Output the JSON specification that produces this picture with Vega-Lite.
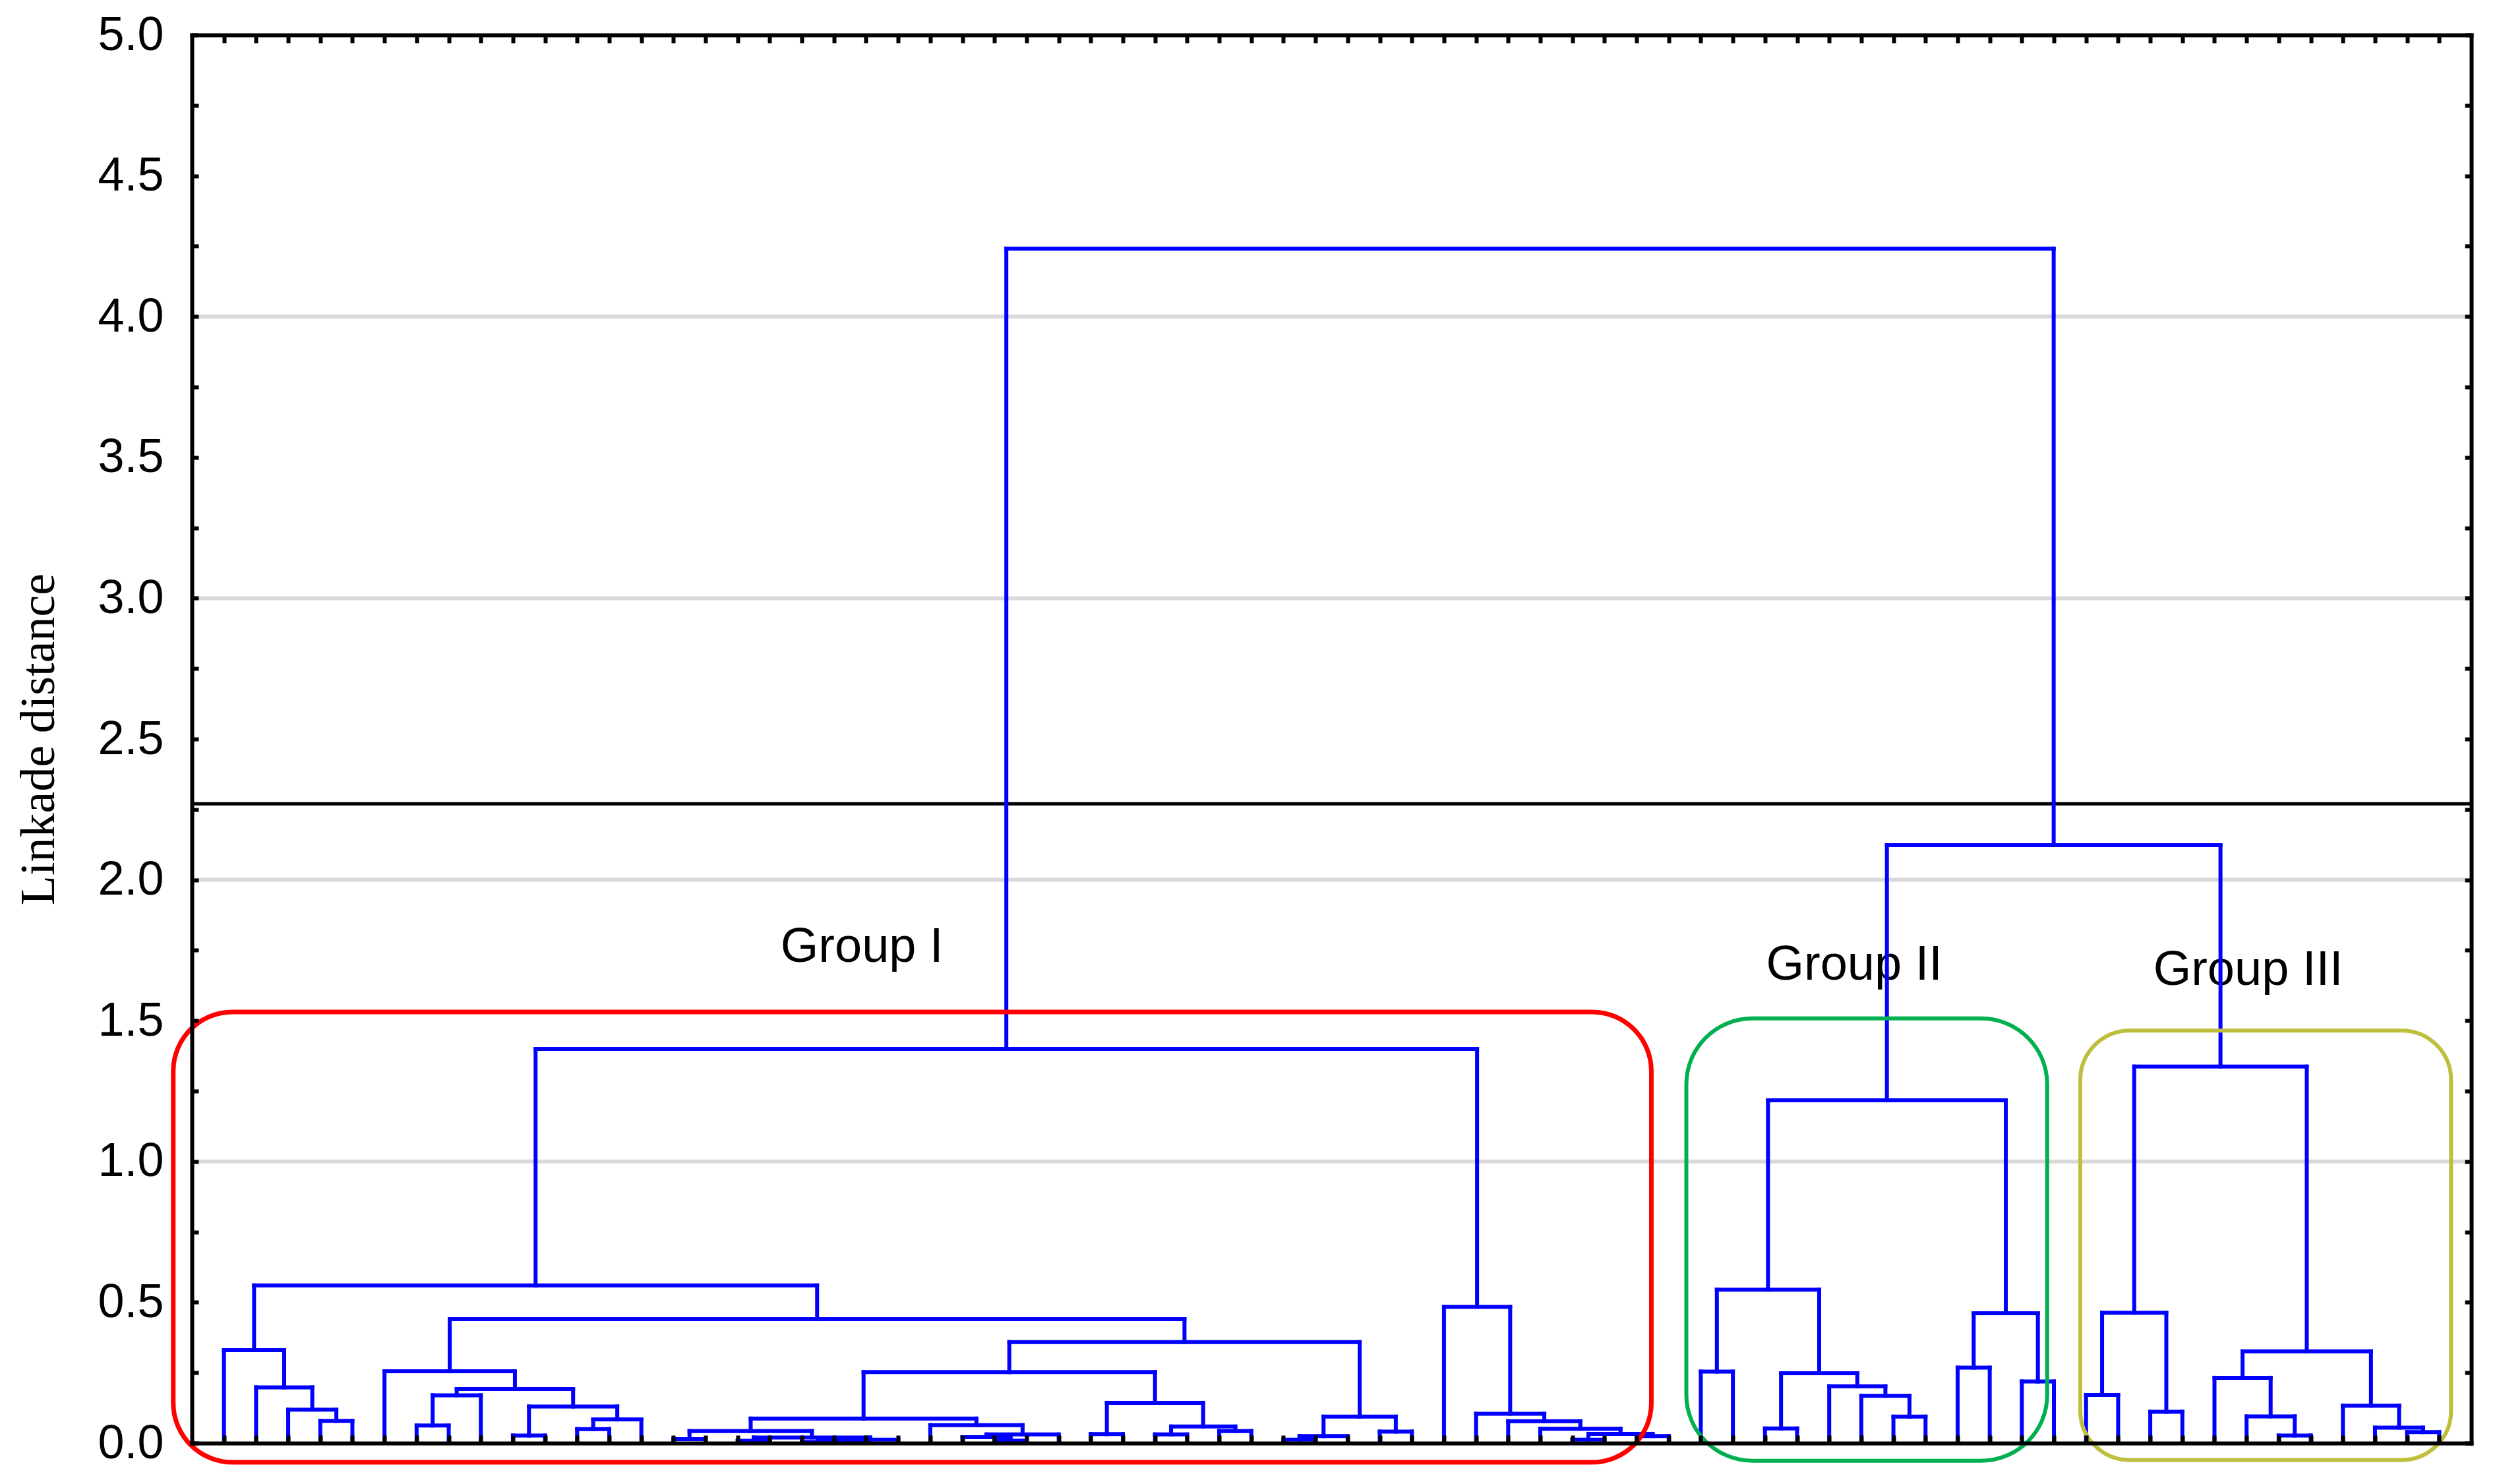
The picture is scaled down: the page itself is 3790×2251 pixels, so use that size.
{
  "$schema": "https://vega.github.io/schema/vega-lite/v6.json",
  "width": 3457,
  "height": 2136,
  "autosize": "none",
  "padding": {"left": 291, "top": 53, "right": 42, "bottom": 62},
  "background": "white",
  "config": {"view": {"stroke": null}, "axis": {"domainCap": "square", "tickCap": "butt"}},
  "datasets": {
    "merges": [
      {"l": 4, "r": 5, "hl": 0, "hr": 0, "h": 0.079},
      {"l": 3, "r": 4.5, "hl": 0, "hr": 0.079, "h": 0.119},
      {"l": 2, "r": 3.75, "hl": 0, "hr": 0.119, "h": 0.198},
      {"l": 1, "r": 2.875, "hl": 0, "hr": 0.198, "h": 0.33},
      {"l": 7, "r": 8, "hl": 0, "hr": 0, "h": 0.0625},
      {"l": 7.5, "r": 9, "hl": 0.0625, "hr": 0, "h": 0.17},
      {"l": 10, "r": 11, "hl": 0, "hr": 0, "h": 0.027},
      {"l": 12, "r": 13, "hl": 0, "hr": 0, "h": 0.05},
      {"l": 12.5, "r": 14, "hl": 0.05, "hr": 0, "h": 0.084},
      {"l": 10.5, "r": 13.25, "hl": 0.027, "hr": 0.084, "h": 0.13},
      {"l": 8.25, "r": 11.875, "hl": 0.17, "hr": 0.13, "h": 0.192},
      {"l": 6, "r": 10.0625, "hl": 0, "hr": 0.192, "h": 0.255},
      {"l": 15, "r": 16, "hl": 0, "hr": 0, "h": 0.014},
      {"l": 17, "r": 18, "hl": 0, "hr": 0, "h": 0.008},
      {"l": 19, "r": 20, "hl": 0, "hr": 0, "h": 0.004},
      {"l": 19.5, "r": 21, "hl": 0.004, "hr": 0, "h": 0.008},
      {"l": 20.25, "r": 22, "hl": 0.008, "hr": 0, "h": 0.012},
      {"l": 17.5, "r": 21.125, "hl": 0.008, "hr": 0.012, "h": 0.02},
      {"l": 15.5, "r": 19.3125, "hl": 0.014, "hr": 0.02, "h": 0.043},
      {"l": 25, "r": 26, "hl": 0, "hr": 0, "h": 0.009},
      {"l": 24, "r": 25.5, "hl": 0, "hr": 0.009, "h": 0.021},
      {"l": 24.75, "r": 27, "hl": 0.021, "hr": 0, "h": 0.031},
      {"l": 23, "r": 25.875, "hl": 0, "hr": 0.031, "h": 0.064},
      {"l": 17.40625, "r": 24.4375, "hl": 0.043, "hr": 0.064, "h": 0.087},
      {"l": 28, "r": 29, "hl": 0, "hr": 0, "h": 0.032},
      {"l": 30, "r": 31, "hl": 0, "hr": 0, "h": 0.031},
      {"l": 32, "r": 33, "hl": 0, "hr": 0, "h": 0.043},
      {"l": 30.5, "r": 32.5, "hl": 0.031, "hr": 0.043, "h": 0.059},
      {"l": 28.5, "r": 31.5, "hl": 0.032, "hr": 0.059, "h": 0.143},
      {"l": 20.921875, "r": 30, "hl": 0.087, "hr": 0.143, "h": 0.252},
      {"l": 34, "r": 35, "hl": 0, "hr": 0, "h": 0.012},
      {"l": 34.5, "r": 36, "hl": 0.012, "hr": 0, "h": 0.025},
      {"l": 37, "r": 38, "hl": 0, "hr": 0, "h": 0.041},
      {"l": 35.25, "r": 37.5, "hl": 0.025, "hr": 0.041, "h": 0.094},
      {"l": 25.4609, "r": 36.375, "hl": 0.252, "hr": 0.094, "h": 0.359},
      {"l": 8.03125, "r": 30.918, "hl": 0.255, "hr": 0.359, "h": 0.44},
      {"l": 1.9375, "r": 19.4746, "hl": 0.33, "hr": 0.44, "h": 0.56},
      {"l": 45, "r": 46, "hl": 0, "hr": 0, "h": 0.025},
      {"l": 43, "r": 44, "hl": 0, "hr": 0, "h": 0.012},
      {"l": 43.5, "r": 45.5, "hl": 0.012, "hr": 0.025, "h": 0.033},
      {"l": 42, "r": 44.5, "hl": 0, "hr": 0.033, "h": 0.051},
      {"l": 41, "r": 43.25, "hl": 0, "hr": 0.051, "h": 0.078},
      {"l": 40, "r": 42.125, "hl": 0, "hr": 0.078, "h": 0.104},
      {"l": 39, "r": 41.0625, "hl": 0, "hr": 0.104, "h": 0.484},
      {"l": 10.706, "r": 40.031, "hl": 0.56, "hr": 0.484, "h": 1.4},
      {"l": 47, "r": 48, "hl": 0, "hr": 0, "h": 0.254},
      {"l": 49, "r": 50, "hl": 0, "hr": 0, "h": 0.052},
      {"l": 53, "r": 54, "hl": 0, "hr": 0, "h": 0.094},
      {"l": 52, "r": 53.5, "hl": 0, "hr": 0.094, "h": 0.168},
      {"l": 51, "r": 52.75, "hl": 0, "hr": 0.168, "h": 0.202},
      {"l": 49.5, "r": 51.875, "hl": 0.052, "hr": 0.202, "h": 0.248},
      {"l": 47.5, "r": 50.6875, "hl": 0.254, "hr": 0.248, "h": 0.545},
      {"l": 55, "r": 56, "hl": 0, "hr": 0, "h": 0.268},
      {"l": 57, "r": 58, "hl": 0, "hr": 0, "h": 0.219},
      {"l": 55.5, "r": 57.5, "hl": 0.268, "hr": 0.219, "h": 0.461},
      {"l": 49.09375, "r": 56.5, "hl": 0.545, "hr": 0.461, "h": 1.217},
      {"l": 59, "r": 60, "hl": 0, "hr": 0, "h": 0.171},
      {"l": 61, "r": 62, "hl": 0, "hr": 0, "h": 0.111},
      {"l": 59.5, "r": 61.5, "hl": 0.171, "hr": 0.111, "h": 0.463},
      {"l": 65, "r": 66, "hl": 0, "hr": 0, "h": 0.027},
      {"l": 64, "r": 65.5, "hl": 0, "hr": 0.027, "h": 0.095},
      {"l": 63, "r": 64.75, "hl": 0, "hr": 0.095, "h": 0.232},
      {"l": 69, "r": 70, "hl": 0, "hr": 0, "h": 0.039},
      {"l": 68, "r": 69.5, "hl": 0, "hr": 0.039, "h": 0.055},
      {"l": 67, "r": 68.75, "hl": 0, "hr": 0.055, "h": 0.133},
      {"l": 63.875, "r": 67.875, "hl": 0.232, "hr": 0.133, "h": 0.326},
      {"l": 60.5, "r": 65.875, "hl": 0.463, "hr": 0.326, "h": 1.337},
      {"l": 52.797, "r": 63.1875, "hl": 1.217, "hr": 1.337, "h": 2.123},
      {"l": 25.3685, "r": 57.992, "hl": 1.4, "hr": 2.123, "h": 4.241}
    ],
    "boxes": [
      {"grp": "Group I", "x0": -0.58, "x1": 45.46, "y0": -0.068, "y1": 1.531},
      {"grp": "Group II", "x0": 46.55, "x1": 57.79, "y0": -0.0625, "y1": 1.508},
      {"grp": "Group III", "x0": 58.82, "x1": 70.37, "y0": -0.06, "y1": 1.465}
    ]
  },
  "resolve": {"axis": {"x": "independent", "y": "independent"}},
  "layer": [
    {
      "data": {"values": [{"g": 1}, {"g": 2}, {"g": 3}, {"g": 4}]},
      "mark": {"type": "rule", "color": "#D9D9D9", "strokeWidth": 6},
      "encoding": {
        "y": {"field": "g", "type": "quantitative", "scale": {"domain": [0, 5], "nice": false, "zero": false}, "axis": null}
      }
    },
    {
      "data": {"values": [{"cut": 2.27}]},
      "mark": {"type": "rule", "color": "black", "strokeWidth": 5},
      "encoding": {
        "y": {"field": "cut", "type": "quantitative", "scale": {"domain": [0, 5], "nice": false, "zero": false}, "axis": null}
      }
    },
    {
      "data": {"values": [
        {"label": "Group I", "x": 20.87, "y": 1.708},
        {"label": "Group II", "x": 51.78, "y": 1.645},
        {"label": "Group III", "x": 64.05, "y": 1.628}
      ]},
      "mark": {"type": "text", "font": "Liberation Sans", "fontSize": 74, "align": "center", "baseline": "alphabetic", "color": "black"},
      "encoding": {
        "x": {"field": "x", "type": "quantitative", "scale": {"domain": [0, 71], "nice": false, "zero": false},
              "axis": {"orient": "top", "values": [1,2,3,4,5,6,7,8,9,10,11,12,13,14,15,16,17,18,19,20,21,22,23,24,25,26,27,28,29,30,31,32,33,34,35,36,37,38,39,40,41,42,43,44,45,46,47,48,49,50,51,52,53,54,55,56,57,58,59,60,61,62,63,64,65,66,67,68,69,70],
                       "labels": false, "title": null, "grid": false, "tickSize": -12, "tickWidth": 6, "tickColor": "black", "domainColor": "black", "domainWidth": 6, "zindex": 1}},
        "y": {"field": "y", "type": "quantitative", "scale": {"domain": [0, 5], "nice": false, "zero": false},
              "axis": {"orient": "right", "values": [0,0.25,0.5,0.75,1,1.25,1.5,1.75,2,2.25,2.5,2.75,3,3.25,3.5,3.75,4,4.25,4.5,4.75,5],
                       "labels": false, "title": null, "grid": false, "tickSize": -10, "tickWidth": 6, "tickColor": "black", "domainColor": "black", "domainWidth": 6, "zindex": 1}},
        "text": {"field": "label", "type": "nominal"}
      }
    },
    {
      "data": {"name": "merges"},
      "mark": {"type": "rule", "color": "#0000FF", "strokeWidth": 6, "strokeCap": "square"},
      "encoding": {
        "x": {"field": "l", "type": "quantitative", "scale": {"domain": [0, 71], "nice": false, "zero": false},
              "axis": {"orient": "bottom", "values": [1,2,3,4,5,6,7,8,9,10,11,12,13,14,15,16,17,18,19,20,21,22,23,24,25,26,27,28,29,30,31,32,33,34,35,36,37,38,39,40,41,42,43,44,45,46,47,48,49,50,51,52,53,54,55,56,57,58,59,60,61,62,63,64,65,66,67,68,69,70],
                       "labels": false, "title": null, "grid": false, "tickSize": -12, "tickWidth": 6, "tickColor": "black", "domainColor": "black", "domainWidth": 6, "zindex": 1}},
        "x2": {"field": "r"},
        "y": {"field": "h", "type": "quantitative", "scale": {"domain": [0, 5], "nice": false, "zero": false},
              "axis": {"orient": "left", "values": [0,0.25,0.5,0.75,1,1.25,1.5,1.75,2,2.25,2.5,2.75,3,3.25,3.5,3.75,4,4.25,4.5,4.75,5],
                       "labelExpr": "datum.value % 0.5 == 0 ? format(datum.value, '.1f') : ''",
                       "labelFont": "Liberation Sans", "labelFontSize": 72, "labelColor": "black", "labelPadding": 53, "labelOverlap": false,
                       "tickSize": -10, "tickWidth": 6, "tickColor": "black", "domainColor": "black", "domainWidth": 6, "grid": false,
                       "title": "Linkade distance", "titleFont": "Liberation Serif", "titleFontSize": 74, "titleFontWeight": "normal", "titleColor": "black", "titlePadding": 50, "zindex": 1}}
      }
    },
    {
      "data": {"name": "merges"},
      "mark": {"type": "rule", "color": "#0000FF", "strokeWidth": 6, "strokeCap": "square"},
      "encoding": {
        "x": {"field": "l", "type": "quantitative", "scale": {"domain": [0, 71], "nice": false, "zero": false}, "axis": null},
        "y": {"field": "hl", "type": "quantitative", "scale": {"domain": [0, 5], "nice": false, "zero": false}, "axis": null},
        "y2": {"field": "h"}
      }
    },
    {
      "data": {"name": "merges"},
      "mark": {"type": "rule", "color": "#0000FF", "strokeWidth": 6, "strokeCap": "square"},
      "encoding": {
        "x": {"field": "r", "type": "quantitative", "scale": {"domain": [0, 71], "nice": false, "zero": false}, "axis": null},
        "y": {"field": "hr", "type": "quantitative", "scale": {"domain": [0, 5], "nice": false, "zero": false}, "axis": null},
        "y2": {"field": "h"}
      }
    },
    {
      "data": {"name": "boxes"},
      "transform": [{"filter": "datum.grp == 'Group I'"}],
      "mark": {"type": "rect", "filled": false, "strokeWidth": 7, "cornerRadius": 90},
      "encoding": {
        "x": {"field": "x0", "type": "quantitative", "scale": {"domain": [0, 71], "nice": false, "zero": false}, "axis": null},
        "x2": {"field": "x1"},
        "y": {"field": "y0", "type": "quantitative", "scale": {"domain": [0, 5], "nice": false, "zero": false}, "axis": null},
        "y2": {"field": "y1"},
        "stroke": {"field": "grp", "type": "nominal", "scale": {"domain": ["Group I", "Group II", "Group III"], "range": ["#FF0000", "#00B050", "#BFBF3F"]}, "legend": null}
      }
    },
    {
      "data": {"name": "boxes"},
      "transform": [{"filter": "datum.grp == 'Group II'"}],
      "mark": {"type": "rect", "filled": false, "strokeWidth": 6, "cornerRadius": 100},
      "encoding": {
        "x": {"field": "x0", "type": "quantitative", "scale": {"domain": [0, 71], "nice": false, "zero": false}, "axis": null},
        "x2": {"field": "x1"},
        "y": {"field": "y0", "type": "quantitative", "scale": {"domain": [0, 5], "nice": false, "zero": false}, "axis": null},
        "y2": {"field": "y1"},
        "stroke": {"field": "grp", "type": "nominal", "scale": {"domain": ["Group I", "Group II", "Group III"], "range": ["#FF0000", "#00B050", "#BFBF3F"]}, "legend": null}
      }
    },
    {
      "data": {"name": "boxes"},
      "transform": [{"filter": "datum.grp == 'Group III'"}],
      "mark": {"type": "rect", "filled": false, "strokeWidth": 6, "cornerRadius": 75},
      "encoding": {
        "x": {"field": "x0", "type": "quantitative", "scale": {"domain": [0, 71], "nice": false, "zero": false}, "axis": null},
        "x2": {"field": "x1"},
        "y": {"field": "y0", "type": "quantitative", "scale": {"domain": [0, 5], "nice": false, "zero": false}, "axis": null},
        "y2": {"field": "y1"},
        "stroke": {"field": "grp", "type": "nominal", "scale": {"domain": ["Group I", "Group II", "Group III"], "range": ["#FF0000", "#00B050", "#BFBF3F"]}, "legend": null}
      }
    }
  ]
}
